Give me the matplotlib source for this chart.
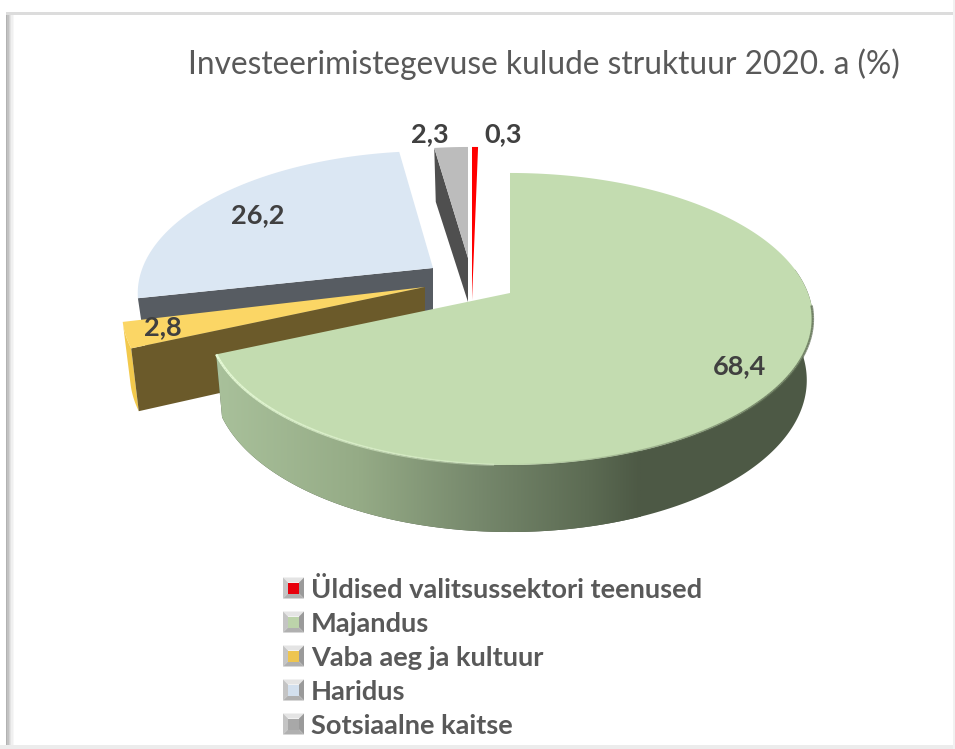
from matplotlib import pyplot as plt
from matplotlib.collections import LineCollection
from matplotlib.colors import LinearSegmentedColormap, to_rgba
from matplotlib.patches import Polygon
import numpy as np

plt.rcParams["font.family"] = ["Lato", "DejaVu Sans"]

# Andmed
title = "Investeerimistegevuse kulude struktuur 2020. a (%)"
names = ["Üldised valitsussektori teenused", "Majandus", "Vaba aeg ja kultuur", "Haridus", "Sotsiaalne kaitse"]
values = [0.3, 68.4, 2.8, 26.2, 2.3]
labels = ["0,3", "68,4", "2,8", "26,2", "2,3"]

# Sektorite välimus
top_colors = ["#ff0000", "#c3dcb0", "#fbd665", "#dbe7f3", "#bcbcbc"]
cut_colors = ["#ff0000", "#6d8060", "#6b5a2a", "#575c62", "#4f4f4f"]
key_colors = ["#e8000c", "#bcd3aa", "#eec550", "#d3e0ee", "#a8a8a8"]
apex_x = [472, 510, 425, 433, 468]
apex_y = [300, 293, 287, 268, 258]
scales = [1.275, 1.0, 1.0, 0.975, 0.925]
spins = [1.08, 0, 0, 1.5, 1.08]
depth_mid = [0, 60, 60, 50, 44]
depth_tilt = [0, 7, 7, 0, -10]
label_x = [503, 740, 163, 258, 430]
label_y = [134, 366, 327, 215, 134]

# Perspektiiv
RX, RY, TILT = 298, 141.4, 0.178
SHRINK, SHRINK_X = 0.98, 510


def project(i, theta):
    t = np.radians(theta)
    den = 1 + TILT * np.cos(t)
    x = apex_x[i] + scales[i] * RX * np.sin(t) / den
    y = apex_y[i] - scales[i] * RY * np.cos(t) / den
    return x, y


def depth(i, theta):
    return depth_mid[i] - depth_tilt[i] * np.cos(np.radians(theta))


def low_x(x):
    return SHRINK_X + (x - SHRINK_X) * SHRINK


fig = plt.figure(figsize=(9.55, 7.49), dpi=100)
ax = fig.add_axes([0, 0, 1, 1])

# Nurgad väärtustest: Majandus algab kella 12 suunast
ends = np.cumsum(values) * 3.6 - values[0] * 3.6
starts = ends - np.array(values) * 3.6
starts = starts + np.array(spins)
ends = ends + np.array(spins)

z = 1.0
for i in [4, 0, 3, 2, 1]:
    z += 0.1
    if i == 1:
        # Majanduse külg gradiendiga
        th = np.linspace(80, ends[i], 200)
        xs, ys = project(i, th)
        side = np.r_[np.c_[xs, ys], np.c_[low_x(xs), ys + depth(i, th)][::-1]]
        poly = Polygon(side, closed=True, fc="none", ec="none")
        ax.add_patch(poly)
        stops = [(0, "#a9c19b"), (0.34, "#95ab86"), (0.62, "#76886c"), (0.88, "#5c6b53"), (1, "#4d5945")]
        cmap = LinearSegmentedColormap.from_list("kylg", stops)
        ax.add_patch(Polygon(side, closed=True, fc="#4d5945", ec="none", zorder=z))
        z += 0.01
        im = ax.imshow(np.linspace(0, 1, 256)[None, :], extent=[214, 640, 540, 340], aspect="auto", cmap=cmap, zorder=z)
        im.set_clip_path(poly)
    elif depth_mid[i] > 0:
        # Väliskülg
        if i == 2:
            th = np.linspace(starts[i], ends[i], 30)
            xs, ys = project(i, th)
            side = np.r_[np.c_[xs, ys], np.c_[low_x(xs), ys + depth(i, th)][::-1]]
            ax.add_patch(Polygon(side, closed=True, fc="#f2c94c", ec="none", zorder=z))
        # Lõikepind
        ox, oy = project(i, starts[i])
        cut = [(apex_x[i], apex_y[i]), (ox, oy), (low_x(ox), oy + depth(i, starts[i])), (apex_x[i], apex_y[i] + depth_mid[i])]
        ax.add_patch(Polygon(cut, closed=True, fc=cut_colors[i], ec="none", zorder=z + 0.01))

    # Pealispind
    th = np.linspace(starts[i], ends[i], 200)
    xs, ys = project(i, th)
    face = np.r_[[[apex_x[i], apex_y[i]]], np.c_[xs, ys]]
    ax.add_patch(Polygon(face, closed=True, fc=top_colors[i], ec="none", zorder=z + 0.02))

# Majanduse serva helk ja vari
th = np.linspace(ends[1], 95, 160)
xs, ys = project(1, th)
pts = np.c_[xs, ys]
segs = np.stack([pts[:-1], pts[1:]], axis=1)
mix = np.linspace(0, 1, len(segs))
rim = np.zeros((len(segs), 4))
rim[mix < 0.42] = to_rgba("#e6fad6")
rim[mix < 0.42, 3] = 1 - mix[mix < 0.42] * 1.6
rim[mix >= 0.42] = to_rgba("#5b6a50")
rim[mix >= 0.42, 3] = np.clip((mix[mix >= 0.42] - 0.42) * 2.2, 0, 0.75)
ax.add_collection(LineCollection(segs, colors=rim, linewidths=1.8, zorder=z + 0.1))

# Andmesildid
for i in range(len(values)):
    ax.text(label_x[i], label_y[i], labels[i], fontsize=19.5, fontweight="bold", color="#404040", ha="center", va="center", zorder=5)

# Pealkiri
ax.text(188, 64, title, fontsize=22.8, color="#595959", ha="left", va="center", zorder=5)

# Legend
legend_y = [588, 622, 656, 690, 724]
key_size = 21
bevel = 5
for i in range(len(names)):
    x0, y0 = 283, legend_y[i] - key_size / 2
    x1, y1 = x0 + key_size, y0 + key_size
    a0, b0, a1, b1 = x0 + bevel, y0 + bevel, x1 - bevel, y1 - bevel
    ax.add_patch(Polygon([(x0, y0), (x1, y0), (a1, b0), (a0, b0)], fc="#e4e4e4", ec="none", zorder=3))
    ax.add_patch(Polygon([(x0, y0), (x0, y1), (a0, b1), (a0, b0)], fc="#c4c4c4", ec="none", zorder=3))
    ax.add_patch(Polygon([(x1, y0), (x1, y1), (a1, b1), (a1, b0)], fc="#9a9a9a", ec="none", zorder=3))
    ax.add_patch(Polygon([(x0, y1), (x1, y1), (a1, b1), (a0, b1)], fc="#b0b0b0", ec="none", zorder=3))
    ax.add_patch(Polygon([(a0, b0), (a1, b0), (a1, b1), (a0, b1)], fc=key_colors[i], ec="none", zorder=3.1))
    ax.text(311, legend_y[i] + 1.5, names[i], fontsize=19.6, fontweight="bold", color="#595959", ha="left", va="center", zorder=5)

# Raam
for k, a in enumerate([0.3, 0.24, 0.17, 0.11, 0.06, 0.03]):
    ax.axvspan(6 + k * 1.3, 6 + (k + 1) * 1.3, ymin=0, ymax=1 - 13 / 749, color="black", alpha=a, lw=0, zorder=0.5)
ax.axhspan(12, 14.5, xmin=6 / 955, xmax=1, color="#dcdcdc", lw=0, zorder=0.5)
ax.axhspan(745, 749, color="#ececec", lw=0, zorder=0.5)
ax.axvspan(952.5, 955, color="#f1f1f1", lw=0, zorder=0.5)

ax.set_xlim(0, 955)
ax.set_ylim(749, 0)
ax.axis("off")
plt.savefig("out.png", dpi=100)
